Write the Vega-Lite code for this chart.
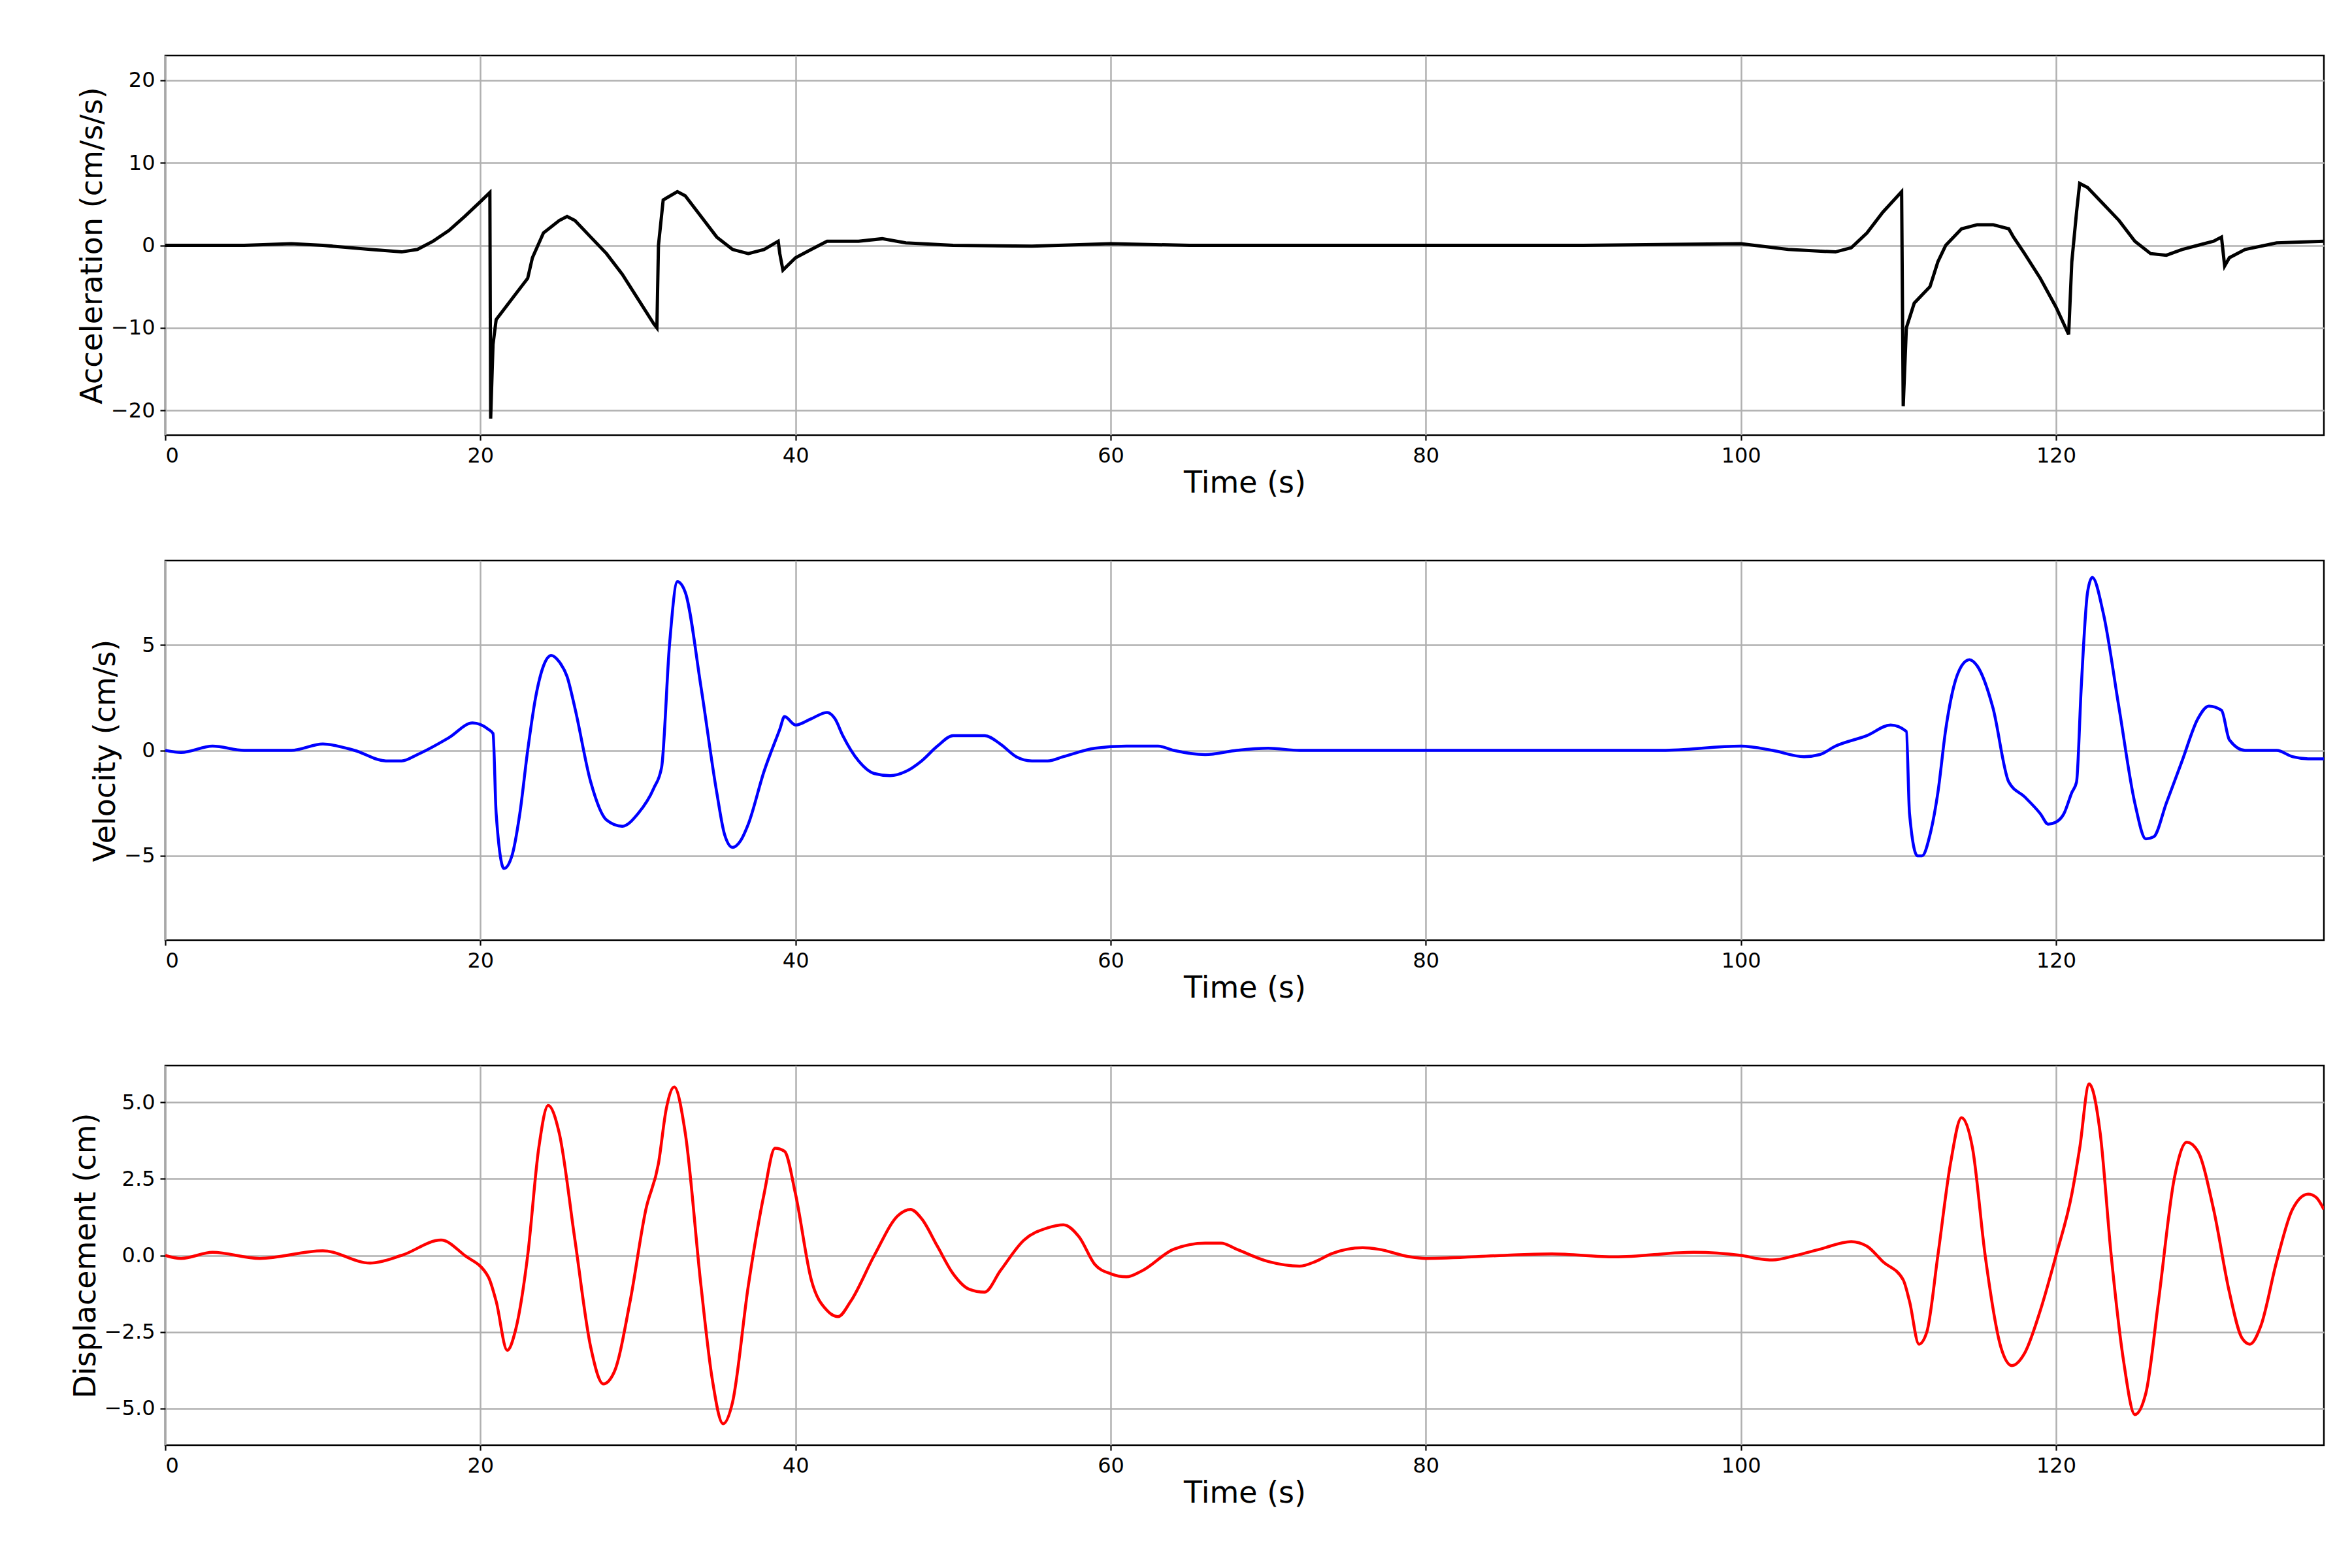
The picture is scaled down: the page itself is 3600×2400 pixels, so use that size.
{
  "$schema": "https://vega.github.io/schema/vega-lite/v6.json",
  "background": "white",
  "padding": {"left": 107, "top": 83, "right": 40, "bottom": 10},
  "spacing": 92,
  "config": {
    "font": "DejaVu Sans",
    "view": {"stroke": "black", "strokeWidth": 2.5},
    "axis": {
      "grid": true, "gridColor": "#b0b0b0", "gridWidth": 2.5,
      "domain": false, "tickColor": "black", "tickWidth": 2.2, "tickSize": 8,
      "labelFontSize": 32, "labelColor": "black", "titleFontSize": 46,
      "titleFontWeight": "normal", "titleColor": "black", "labelPadding": 8
    }
  },
  "datasets": {
    "acc": [
      {"t":0,"v":0},{"t":5,"v":0},{"t":8,"v":0.2},{"t":10,"v":0},{"t":13,"v":-0.5},{"t":15,"v":-0.8},{"t":16,"v":-0.5},{"t":17,"v":0.5},{"t":18,"v":1.8},{"t":19,"v":3.5},{"t":20,"v":5.3},{"t":20.6,"v":6.4},{"t":20.65,"v":-21},{"t":20.8,"v":-12},{"t":21,"v":-9},{"t":22,"v":-6.5},{"t":23,"v":-4},{"t":23.3,"v":-1.5},{"t":24,"v":1.5},{"t":25,"v":3},{"t":25.5,"v":3.5},{"t":26,"v":3},{"t":27,"v":1},{"t":28,"v":-1},{"t":29,"v":-3.5},{"t":30,"v":-6.5},{"t":31,"v":-9.5},{"t":31.2,"v":-10},{"t":31.3,"v":0},{"t":31.6,"v":5.5},{"t":32.5,"v":6.5},{"t":33,"v":6},{"t":34,"v":3.5},{"t":35,"v":1},{"t":36,"v":-0.5},{"t":37,"v":-1},{"t":38,"v":-0.5},{"t":38.9,"v":0.5},{"t":39,"v":-1},{"t":39.2,"v":-3},{"t":40,"v":-1.5},{"t":41,"v":-0.5},{"t":42,"v":0.5},{"t":44,"v":0.5},{"t":45.5,"v":0.8},{"t":47,"v":0.3},{"t":50,"v":0},{"t":55,"v":-0.1},{"t":60,"v":0.2},{"t":65,"v":0},{"t":70,"v":0},{"t":80,"v":0},{"t":90,"v":0},{"t":100,"v":0.2},{"t":103,"v":-0.5},{"t":106,"v":-0.8},{"t":107,"v":-0.3},{"t":108,"v":1.5},{"t":109,"v":4},{"t":110.2,"v":6.5},{"t":110.3,"v":-19.5},{"t":110.5,"v":-10},{"t":111,"v":-7},{"t":112,"v":-5},{"t":112.5,"v":-2},{"t":113,"v":0},{"t":114,"v":2},{"t":115,"v":2.5},{"t":116,"v":2.5},{"t":117,"v":2},{"t":117.3,"v":1},{"t":118,"v":-1},{"t":119,"v":-4},{"t":120,"v":-7.5},{"t":120.8,"v":-10.8},{"t":121,"v":-2},{"t":121.3,"v":4},{"t":121.5,"v":7.5},{"t":122,"v":7},{"t":123,"v":5},{"t":124,"v":3},{"t":125,"v":0.5},{"t":126,"v":-1},{"t":127,"v":-1.2},{"t":128,"v":-0.5},{"t":129,"v":0},{"t":130,"v":0.5},{"t":130.5,"v":1},{"t":130.7,"v":-2.5},{"t":131,"v":-1.5},{"t":132,"v":-0.5},{"t":134,"v":0.3},{"t":137,"v":0.5}
    ],
    "vel": [
      {"t":0,"v":0},{"t":1,"v":-0.1},{"t":3,"v":0.2},{"t":5,"v":0},{"t":8,"v":0},{"t":10,"v":0.3},{"t":12,"v":0},{"t":14,"v":-0.5},{"t":15,"v":-0.5},{"t":16,"v":-0.2},{"t":18,"v":0.6},{"t":19.5,"v":1.3},{"t":20.5,"v":1},{"t":20.8,"v":0.8},{"t":21,"v":-3},{"t":21.5,"v":-5.6},{"t":22,"v":-5},{"t":22.5,"v":-3},{"t":23,"v":0},{"t":23.5,"v":2.5},{"t":24,"v":4},{"t":24.5,"v":4.5},{"t":25,"v":4.2},{"t":25.5,"v":3.5},{"t":26,"v":2},{"t":27,"v":-1.5},{"t":28,"v":-3.3},{"t":29,"v":-3.6},{"t":30,"v":-3},{"t":31,"v":-1.8},{"t":31.5,"v":-0.8},{"t":32,"v":5},{"t":32.5,"v":8},{"t":33,"v":7.5},{"t":34,"v":3},{"t":35,"v":-2},{"t":35.5,"v":-4},{"t":36,"v":-4.6},{"t":36.5,"v":-4.3},{"t":37,"v":-3.5},{"t":38,"v":-1},{"t":39,"v":1},{"t":39.3,"v":1.6},{"t":40,"v":1.2},{"t":41,"v":1.5},{"t":42,"v":1.8},{"t":42.5,"v":1.5},{"t":43,"v":0.7},{"t":44,"v":-0.5},{"t":45,"v":-1.1},{"t":46,"v":-1.2},{"t":47,"v":-1},{"t":48,"v":-0.5},{"t":49,"v":0.2},{"t":50,"v":0.7},{"t":51,"v":0.7},{"t":52,"v":0.7},{"t":53,"v":0.3},{"t":54,"v":-0.3},{"t":55,"v":-0.5},{"t":56,"v":-0.5},{"t":57,"v":-0.3},{"t":59,"v":0.1},{"t":61,"v":0.2},{"t":63,"v":0.2},{"t":64,"v":0},{"t":66,"v":-0.2},{"t":68,"v":0},{"t":70,"v":0.1},{"t":72,"v":0},{"t":75,"v":0},{"t":80,"v":0},{"t":85,"v":0},{"t":95,"v":0},{"t":100,"v":0.2},{"t":102,"v":0},{"t":104,"v":-0.3},{"t":105,"v":-0.2},{"t":106,"v":0.2},{"t":108,"v":0.7},{"t":109.5,"v":1.2},{"t":110.5,"v":0.9},{"t":110.7,"v":-3},{"t":111.2,"v":-5},{"t":111.5,"v":-5},{"t":112,"v":-4},{"t":112.5,"v":-2},{"t":113,"v":1},{"t":113.5,"v":3},{"t":114,"v":4},{"t":114.5,"v":4.3},{"t":115,"v":4},{"t":116,"v":2},{"t":117,"v":-1.5},{"t":118,"v":-2.2},{"t":119,"v":-3},{"t":119.5,"v":-3.5},{"t":120,"v":-3.4},{"t":120.5,"v":-3},{"t":121,"v":-2},{"t":121.3,"v":-1.5},{"t":121.6,"v":3},{"t":122,"v":7.5},{"t":122.3,"v":8.2},{"t":123,"v":6.5},{"t":124,"v":2},{"t":125,"v":-2.5},{"t":125.7,"v":-4.2},{"t":126.2,"v":-4.1},{"t":127,"v":-2.5},{"t":128,"v":-0.5},{"t":129,"v":1.5},{"t":129.7,"v":2.1},{"t":130.5,"v":1.9},{"t":131,"v":0.5},{"t":132,"v":0},{"t":134,"v":0},{"t":135,"v":-0.3},{"t":136,"v":-0.4},{"t":137,"v":-0.4}
    ],
    "dis": [
      {"t":0,"v":0},{"t":1,"v":-0.1},{"t":3,"v":0.1},{"t":6,"v":-0.1},{"t":10,"v":0.15},{"t":13,"v":-0.25},{"t":15,"v":0},{"t":17.5,"v":0.5},{"t":19,"v":0},{"t":20.5,"v":-0.7},{"t":21,"v":-1.5},{"t":21.7,"v":-3.1},{"t":22.2,"v":-2.5},{"t":23,"v":0},{"t":23.7,"v":3.5},{"t":24.3,"v":4.9},{"t":25,"v":4},{"t":26,"v":0.5},{"t":27,"v":-3},{"t":27.8,"v":-4.2},{"t":28.5,"v":-3.8},{"t":29.5,"v":-1.5},{"t":30.5,"v":1.5},{"t":31.3,"v":3},{"t":31.8,"v":4.8},{"t":32.3,"v":5.5},{"t":33,"v":4},{"t":34,"v":-1},{"t":34.7,"v":-4},{"t":35.4,"v":-5.5},{"t":36,"v":-4.8},{"t":37,"v":-1},{"t":38,"v":2},{"t":38.7,"v":3.5},{"t":39.3,"v":3.4},{"t":40,"v":2},{"t":41,"v":-0.8},{"t":42,"v":-1.8},{"t":42.7,"v":-2},{"t":43.5,"v":-1.5},{"t":45,"v":0},{"t":46.5,"v":1.3},{"t":47.3,"v":1.5},{"t":48,"v":1.2},{"t":49,"v":0.3},{"t":50,"v":-0.6},{"t":51,"v":-1.1},{"t":52,"v":-1.2},{"t":53,"v":-0.5},{"t":54.5,"v":0.5},{"t":56,"v":0.9},{"t":57,"v":1},{"t":58,"v":0.6},{"t":59,"v":-0.3},{"t":60,"v":-0.6},{"t":61,"v":-0.7},{"t":62,"v":-0.5},{"t":64,"v":0.2},{"t":66,"v":0.4},{"t":67,"v":0.4},{"t":68,"v":0.2},{"t":70,"v":-0.2},{"t":72,"v":-0.35},{"t":73,"v":-0.2},{"t":74,"v":0.05},{"t":76,"v":0.25},{"t":77,"v":0.2},{"t":79,"v":-0.05},{"t":80,"v":-0.1},{"t":85,"v":0},{"t":88,"v":0.05},{"t":92,"v":-0.05},{"t":97,"v":0.1},{"t":100,"v":0},{"t":101,"v":-0.1},{"t":102,"v":-0.15},{"t":103.5,"v":0},{"t":105,"v":0.2},{"t":107,"v":0.45},{"t":108,"v":0.3},{"t":109,"v":-0.2},{"t":110.3,"v":-0.8},{"t":110.7,"v":-1.5},{"t":111.3,"v":-2.9},{"t":111.8,"v":-2.5},{"t":112.5,"v":0},{"t":113.3,"v":3},{"t":114,"v":4.5},{"t":114.7,"v":3.5},{"t":115.5,"v":0},{"t":116.5,"v":-3},{"t":117.2,"v":-3.6},{"t":118,"v":-3.2},{"t":119,"v":-1.8},{"t":120,"v":0},{"t":121,"v":2},{"t":121.5,"v":3.5},{"t":122.1,"v":5.6},{"t":122.8,"v":4},{"t":123.5,"v":0},{"t":124.3,"v":-3.5},{"t":125,"v":-5.2},{"t":125.7,"v":-4.5},{"t":126.5,"v":-1.5},{"t":127.5,"v":2.5},{"t":128.3,"v":3.7},{"t":129,"v":3.4},{"t":130,"v":1.5},{"t":131,"v":-1.2},{"t":131.8,"v":-2.7},{"t":132.3,"v":-2.9},{"t":133,"v":-2.3},{"t":134,"v":-0.2},{"t":135,"v":1.5},{"t":136,"v":2},{"t":136.5,"v":1.9},{"t":137,"v":1.5}
    ]
  },
  "vconcat": [
    {
      "width": 3304, "height": 581,
      "data": {"name": "acc"},
      "mark": {"type": "line", "color": "black", "strokeWidth": 5, "clip": true},
      "encoding": {
        "x": {"field": "t", "type": "quantitative", "title": "Time (s)", "scale": {"domain": [0, 137], "nice": false}, "axis": {"values": [0,20,40,60,80,100,120]}},
        "y": {"field": "v", "type": "quantitative", "title": "Acceleration (cm/s/s)", "scale": {"domain": [-23, 23], "nice": false}, "axis": {"values": [-20,-10,0,10,20]}}
      }
    },
    {
      "width": 3304, "height": 581,
      "data": {"name": "vel"},
      "mark": {"type": "line", "color": "blue", "strokeWidth": 4.5, "interpolate": "monotone", "clip": true},
      "encoding": {
        "x": {"field": "t", "type": "quantitative", "title": "Time (s)", "scale": {"domain": [0, 137], "nice": false}, "axis": {"values": [0,20,40,60,80,100,120]}},
        "y": {"field": "v", "type": "quantitative", "title": "Velocity (cm/s)", "scale": {"domain": [-9, 9], "nice": false}, "axis": {"values": [-5,0,5]}}
      }
    },
    {
      "width": 3304, "height": 581,
      "data": {"name": "dis"},
      "mark": {"type": "line", "color": "red", "strokeWidth": 4.5, "interpolate": "monotone", "clip": true},
      "encoding": {
        "x": {"field": "t", "type": "quantitative", "title": "Time (s)", "scale": {"domain": [0, 137], "nice": false}, "axis": {"values": [0,20,40,60,80,100,120]}},
        "y": {"field": "v", "type": "quantitative", "title": "Displacement (cm)", "scale": {"domain": [-6.2, 6.2], "nice": false}, "axis": {"values": [-5,-2.5,0,2.5,5], "format": ".1f"}}
      }
    }
  ]
}
